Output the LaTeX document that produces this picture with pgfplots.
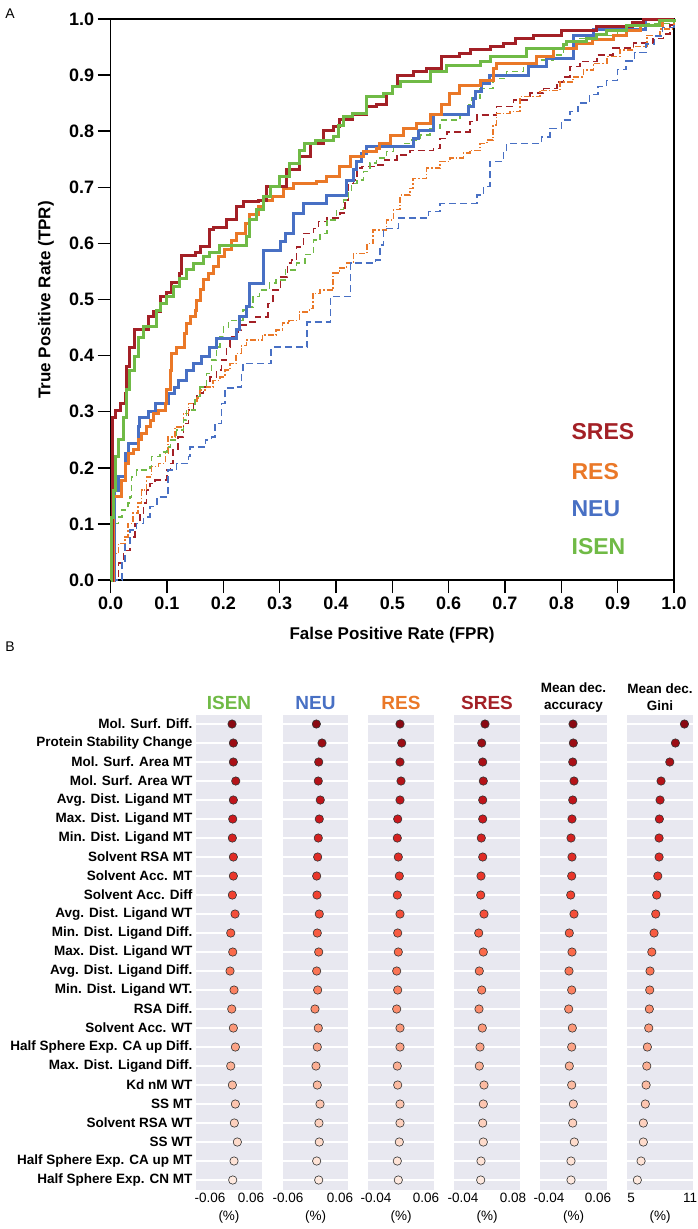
\documentclass[border=0pt]{standalone}
\usepackage{fontspec}
\setmainfont{Liberation Sans}
\usepackage{pgfplots}
\usepackage{pgfplotstable}
\pgfplotsset{compat=1.18}
\definecolor{sresC}{RGB}{163,32,38}
\definecolor{resC}{RGB}{234,120,40}
\definecolor{neuC}{RGB}{72,112,196}
\definecolor{isenC}{RGB}{112,186,70}
\definecolor{bgc}{RGB}{232,232,240}
\pgfplotsset{colormap={myreds}{rgb255=(103,0,13) rgb255=(165,15,21) rgb255=(203,24,29) rgb255=(239,59,44) rgb255=(251,106,74) rgb255=(252,146,114) rgb255=(252,187,161) rgb255=(254,224,210) rgb255=(255,245,240)}}

\pgfplotstableread{
r isen neu res sres acc gini
0 0.0044 0.0055 0.0080 0.0128 0.0090 10.43
1 0.0082 0.0185 0.0114 0.0049 0.0096 9.51
2 0.0082 0.0109 0.0080 0.0073 0.0084 8.94
3 0.0152 0.0099 0.0100 0.0087 0.0110 8.05
4 0.0082 0.0145 0.0080 0.0073 0.0084 7.95
5 0.0064 0.0122 0.0034 0.0073 0.0069 7.88
6 0.0053 0.0099 0.0026 0.0039 0.0049 7.85
7 0.0082 0.0085 0.0046 0.0073 0.0069 7.85
8 0.0082 0.0062 0.0066 0.0032 0.0063 7.72
9 0.0053 0.0069 0.0026 0.0025 0.0043 7.61
10 0.0132 0.0122 0.0080 0.0104 0.0110 7.51
11 0.0006 0.0076 0.0034 -0.0023 0.0014 7.34
12 0.0064 0.0109 0.0046 0.0087 0.0069 7.11
13 -0.0015 0.0062 0.0014 -0.0009 0.0008 6.93
14 0.0102 0.0085 0.0034 0.0049 0.0063 6.90
15 0.0035 0.0023 0.0014 -0.0016 0.0002 6.86
16 0.0082 0.0099 0.0080 0.0063 0.0076 6.80
17 0.0141 0.0076 0.0080 0.0008 0.0063 6.66
18 0.0006 0.0046 0.0026 -0.0009 0.0014 6.60
19 0.0053 0.0076 0.0034 0.0104 0.0063 6.53
20 0.0141 0.0139 0.0080 0.0087 0.0096 6.45
21 0.0111 0.0115 0.0080 0.0073 0.0084 6.25
22 0.0199 0.0122 0.0066 0.0087 0.0116 6.25
23 0.0102 0.0062 0.0026 0.0032 0.0049 6.02
24 0.0064 0.0109 0.0046 0.0025 0.0049 5.64
}\imp

\pgfplotsset{
  bpanel/.style={
    anchor=south west, scale only axis, height=475pt,
    ymin=-0.5, ymax=24.5, y dir=reverse,
    axis background/.style={fill=bgc},
    axis line style={draw=none},
    major tick length=0pt,
    scaled x ticks=false, scaled y ticks=false,
    ytick={0,1,...,24}, yticklabels={},
    ymajorgrids, major grid style={white, line width=1.4pt},
    xticklabel style={font=\fontsize{13.5}{13.5}\selectfont},
    xlabel={(\%)}, xlabel style={font=\fontsize{13.5}{13.5}\selectfont, yshift=-1pt},
    clip=false, colormap name=myreds, point meta min=-2, point meta max=26,
  },
  dots/.style={scatter, only marks, mark=*, mark size=4.2pt, line width=0.6pt,
    scatter src=explicit, scatter/use mapped color={draw=black!80, fill=mapped color}},
}

\begin{document}
\begin{tikzpicture}[x=1pt,y=1pt]
\useasboundingbox (0,0) rectangle (697,-1229);

% ---------------- Panel A ----------------
\node[font=\fontsize{14}{14}\selectfont, anchor=center] at (10,-14) {A};
\begin{axis}[
  at={(110.6pt,-580pt)}, anchor=south west, scale only axis,
  width=563.4pt, height=561pt,
  xmin=0, xmax=1, ymin=0, ymax=1,
  xtick={0,0.1,0.2,0.3,0.4,0.5,0.6,0.7,0.8,0.9,1},
  xticklabels={0.0,0.1,0.2,0.3,0.4,0.5,0.6,0.7,0.8,0.9,1.0},
  ytick={0,0.1,0.2,0.3,0.4,0.5,0.6,0.7,0.8,0.9,1},
  yticklabels={0.0,0.1,0.2,0.3,0.4,0.5,0.6,0.7,0.8,0.9,1.0},
  tick align=outside, tick pos=left, major tick length=13pt,
  axis line style={line width=1.5pt},
  every tick/.style={black, line width=1.5pt},
  tick label style={font=\bfseries\fontsize{18}{18}\selectfont},
  clip=false,
]
% dashed curves
\addplot[const plot, sresC, line width=1.5pt, dash pattern=on 7pt off 4pt] coordinates {
(0,0) (0.014,0.03) (0.023,0.053) (0.034,0.077) (0.043,0.101) (0.052,0.119) (0.058,0.137) (0.064,0.16) (0.07,0.172) (0.079,0.178) (0.1,0.196) (0.106,0.208) (0.111,0.232) (0.12,0.255) (0.129,0.279) (0.138,0.303) (0.147,0.321) (0.153,0.333) (0.165,0.344) (0.176,0.362) (0.188,0.374) (0.197,0.392) (0.206,0.415) (0.212,0.433) (0.226,0.446) (0.232,0.455) (0.244,0.46) (0.258,0.469) (0.279,0.493) (0.288,0.517) (0.302,0.54) (0.314,0.565) (0.321,0.57) (0.33,0.594) (0.342,0.618) (0.36,0.627) (0.369,0.639) (0.384,0.645) (0.407,0.654) (0.416,0.677) (0.422,0.707) (0.431,0.713) (0.437,0.734) (0.446,0.737) (0.472,0.74) (0.487,0.749) (0.508,0.758) (0.531,0.766) (0.573,0.769) (0.585,0.787) (0.597,0.799) (0.638,0.817) (0.65,0.829) (0.685,0.844) (0.715,0.856) (0.744,0.868) (0.768,0.876) (0.792,0.888) (0.804,0.897) (0.815,0.915) (0.833,0.924) (0.863,0.936) (0.892,0.948) (0.928,0.957) (0.963,0.965) (0.981,0.973) (0.993,0.989) (1,1)};
\addplot[const plot, resC, line width=1.5pt, dash pattern=on 6pt off 2pt on 1.5pt off 2pt] coordinates {
(0,0) (0.005,0.047) (0.014,0.065) (0.026,0.077) (0.031,0.101) (0.04,0.119) (0.049,0.137) (0.055,0.16) (0.064,0.184) (0.073,0.202) (0.085,0.208) (0.097,0.226) (0.102,0.255) (0.114,0.273) (0.129,0.297) (0.138,0.315) (0.153,0.324) (0.159,0.339) (0.17,0.344) (0.182,0.356) (0.194,0.362) (0.203,0.374) (0.212,0.386) (0.223,0.404) (0.232,0.418) (0.241,0.428) (0.27,0.437) (0.294,0.446) (0.305,0.458) (0.317,0.463) (0.335,0.478) (0.353,0.484) (0.359,0.511) (0.372,0.517) (0.395,0.547) (0.406,0.556) (0.419,0.565) (0.431,0.582) (0.455,0.6) (0.466,0.624) (0.49,0.642) (0.502,0.66) (0.514,0.686) (0.531,0.698) (0.537,0.716) (0.561,0.734) (0.585,0.746) (0.602,0.752) (0.626,0.761) (0.638,0.766) (0.656,0.778) (0.668,0.784) (0.679,0.811) (0.685,0.832) (0.709,0.835) (0.727,0.862) (0.762,0.873) (0.798,0.888) (0.821,0.897) (0.839,0.909) (0.857,0.921) (0.881,0.933) (0.904,0.945) (0.928,0.951) (0.952,0.971) (0.975,0.982) (1,1)};
\addplot[const plot, neuC, line width=1.5pt, dash pattern=on 7pt off 4pt] coordinates {
(0,0) (0.02,0.03) (0.026,0.065) (0.034,0.089) (0.046,0.101) (0.058,0.112) (0.07,0.131) (0.082,0.148) (0.102,0.196) (0.117,0.208) (0.138,0.22) (0.141,0.237) (0.168,0.25) (0.179,0.255) (0.185,0.279) (0.197,0.315) (0.203,0.342) (0.223,0.344) (0.232,0.368) (0.235,0.386) (0.285,0.415) (0.349,0.46) (0.39,0.505) (0.426,0.565) (0.47,0.57) (0.478,0.597) (0.484,0.627) (0.511,0.645) (0.564,0.657) (0.585,0.671) (0.65,0.686) (0.662,0.701) (0.673,0.746) (0.697,0.764) (0.703,0.778) (0.765,0.79) (0.78,0.805) (0.8,0.82) (0.815,0.835) (0.83,0.85) (0.85,0.865) (0.865,0.88) (0.88,0.89) (0.9,0.91) (0.915,0.925) (0.93,0.94) (0.95,0.955) (0.965,0.97) (0.98,0.985) (1,1)};
\addplot[const plot, isenC, line width=1.5pt, dash pattern=on 6pt off 4pt] coordinates {
(0,0) (0.002,0.053) (0.005,0.101) (0.014,0.112) (0.02,0.125) (0.031,0.137) (0.034,0.148) (0.037,0.184) (0.046,0.196) (0.07,0.202) (0.073,0.22) (0.088,0.228) (0.1,0.237) (0.106,0.25) (0.117,0.267) (0.129,0.285) (0.135,0.303) (0.15,0.327) (0.159,0.344) (0.17,0.368) (0.179,0.392) (0.188,0.415) (0.194,0.433) (0.2,0.451) (0.209,0.463) (0.235,0.481) (0.241,0.487) (0.253,0.505) (0.264,0.517) (0.282,0.529) (0.294,0.535) (0.31,0.553) (0.33,0.565) (0.345,0.58) (0.36,0.606) (0.372,0.618) (0.384,0.642) (0.401,0.66) (0.413,0.677) (0.422,0.695) (0.428,0.707) (0.437,0.713) (0.449,0.728) (0.46,0.743) (0.472,0.752) (0.49,0.764) (0.502,0.772) (0.52,0.778) (0.534,0.784) (0.549,0.793) (0.567,0.805) (0.585,0.82) (0.62,0.829) (0.635,0.847) (0.641,0.859) (0.656,0.876) (0.679,0.894) (0.703,0.906) (0.733,0.915) (0.756,0.927) (0.786,0.936) (0.804,0.948) (0.827,0.965) (0.857,0.971) (0.9,0.98) (0.952,0.992) (1,1)};
% solid curves
\addplot[const plot, neuC, line width=3pt] coordinates {
(0,0) (0.007,0.16) (0.014,0.184) (0.026,0.226) (0.031,0.244) (0.049,0.273) (0.051,0.289) (0.067,0.3) (0.079,0.315) (0.102,0.333) (0.114,0.344) (0.12,0.356) (0.135,0.374) (0.147,0.386) (0.161,0.398) (0.176,0.414) (0.188,0.431) (0.223,0.446) (0.229,0.469) (0.241,0.487) (0.247,0.529) (0.271,0.588) (0.301,0.603) (0.31,0.618) (0.324,0.654) (0.342,0.671) (0.384,0.686) (0.419,0.713) (0.431,0.731) (0.437,0.746) (0.446,0.761) (0.455,0.772) (0.537,0.787) (0.546,0.802) (0.573,0.829) (0.635,0.844) (0.644,0.859) (0.647,0.87) (0.659,0.885) (0.673,0.9) (0.741,0.915) (0.774,0.93) (0.821,0.971) (0.857,0.982) (0.949,1.0) (1,1)};
\addplot[const plot, resC, line width=3pt] coordinates {
(0,0) (0.005,0.148) (0.02,0.178) (0.026,0.208) (0.031,0.226) (0.04,0.232) (0.049,0.25) (0.055,0.262) (0.064,0.273) (0.07,0.285) (0.076,0.297) (0.085,0.303) (0.097,0.315) (0.1,0.339) (0.106,0.374) (0.108,0.404) (0.117,0.415) (0.132,0.44) (0.135,0.458) (0.141,0.469) (0.15,0.481) (0.153,0.499) (0.159,0.517) (0.165,0.535) (0.173,0.547) (0.182,0.558) (0.191,0.576) (0.203,0.59) (0.215,0.606) (0.224,0.618) (0.239,0.636) (0.247,0.651) (0.262,0.665) (0.271,0.677) (0.288,0.683) (0.306,0.698) (0.324,0.707) (0.366,0.71) (0.384,0.719) (0.407,0.737) (0.425,0.755) (0.449,0.764) (0.472,0.769) (0.478,0.778) (0.496,0.793) (0.52,0.805) (0.543,0.814) (0.567,0.829) (0.588,0.847) (0.602,0.868) (0.62,0.882) (0.656,0.891) (0.679,0.912) (0.685,0.921) (0.756,0.933) (0.786,0.948) (0.827,0.957) (0.856,0.963) (0.892,0.971) (0.916,0.98) (0.94,0.989) (0.98,0.998) (1,1)};
\addplot[const plot, sresC, line width=3pt] coordinates {
(0,0) (0.004,0.29) (0.008,0.303) (0.017,0.315) (0.026,0.333) (0.029,0.38) (0.034,0.415) (0.043,0.446) (0.067,0.469) (0.076,0.478) (0.088,0.505) (0.1,0.512) (0.108,0.53) (0.123,0.547) (0.126,0.579) (0.15,0.583) (0.159,0.594) (0.176,0.624) (0.182,0.629) (0.206,0.642) (0.224,0.665) (0.235,0.674) (0.262,0.677) (0.277,0.701) (0.313,0.731) (0.336,0.755) (0.354,0.778) (0.377,0.802) (0.395,0.808) (0.407,0.82) (0.43,0.829) (0.455,0.844) (0.472,0.847) (0.49,0.868) (0.501,0.879) (0.51,0.9) (0.537,0.906) (0.56,0.912) (0.588,0.933) (0.62,0.939) (0.638,0.945) (0.674,0.951) (0.697,0.957) (0.718,0.966) (0.75,0.97) (0.8,0.979) (0.863,0.986) (0.927,0.993) (0.945,1.0) (1,1)};
\addplot[const plot, isenC, line width=3pt] coordinates {
(0,0) (0.002,0.112) (0.005,0.16) (0.008,0.22) (0.014,0.25) (0.023,0.29) (0.029,0.339) (0.034,0.374) (0.043,0.398) (0.049,0.433) (0.058,0.451) (0.082,0.481) (0.088,0.493) (0.1,0.505) (0.111,0.523) (0.123,0.538) (0.135,0.553) (0.147,0.565) (0.165,0.576) (0.176,0.583) (0.194,0.597) (0.242,0.612) (0.247,0.642) (0.259,0.66) (0.271,0.683) (0.283,0.701) (0.3,0.719) (0.318,0.743) (0.336,0.766) (0.345,0.778) (0.363,0.784) (0.395,0.79) (0.405,0.81) (0.413,0.826) (0.43,0.832) (0.455,0.862) (0.484,0.868) (0.501,0.879) (0.514,0.888) (0.567,0.906) (0.597,0.918) (0.656,0.924) (0.674,0.933) (0.739,0.948) (0.803,0.954) (0.81,0.96) (0.845,0.965) (0.863,0.973) (0.88,0.98) (0.916,0.989) (0.975,0.998) (1,1)};
\node[anchor=west, text=sresC, font=\bfseries\fontsize{23}{23}\selectfont] at (axis cs:0.812,0.264) {SRES};
\node[anchor=west, text=resC, font=\bfseries\fontsize{23}{23}\selectfont] at (axis cs:0.812,0.194) {RES};
\node[anchor=west, text=neuC, font=\bfseries\fontsize{23}{23}\selectfont] at (axis cs:0.812,0.128) {NEU};
\node[anchor=west, text=isenC, font=\bfseries\fontsize{23}{23}\selectfont] at (axis cs:0.812,0.059) {ISEN};
\end{axis}
\node[font=\bfseries\fontsize{17}{17}\selectfont] at (392,-635) {False Positive Rate (FPR)};
\node[font=\bfseries\fontsize{17}{17}\selectfont, rotate=90] at (46,-300) {True Positive Rate (TPR)};

% ---------------- Panel B ----------------
\node[font=\fontsize{14}{14}\selectfont, anchor=center] at (10,-647) {B};
\node[font=\bfseries\fontsize{19}{19}\selectfont, text=isenC] at (229,-703) {ISEN};
\node[font=\bfseries\fontsize{19}{19}\selectfont, text=neuC] at (315.5,-703) {NEU};
\node[font=\bfseries\fontsize{19}{19}\selectfont, text=resC] at (401,-703) {RES};
\node[font=\bfseries\fontsize{19}{19}\selectfont, text=sresC] at (487,-703) {SRES};
\node[font=\bfseries\fontsize{13.5}{17}\selectfont, align=center] at (573.5,-697) {Mean dec.\\accuracy};
\node[font=\bfseries\fontsize{13.5}{17}\selectfont, align=center] at (660,-697) {Mean dec.\\Gini};

\begin{axis}[bpanel, at={(196pt,-1189.5pt)}, width=66pt,
  xmin=-0.101, xmax=0.092, xtick={-0.06,0.06}, xticklabels={-0.06,0.06},
  yticklabels={Mol. Surf. Diff., Protein Stability Change, Mol. Surf. Area MT, Mol. Surf. Area WT, Avg. Dist. Ligand MT, Max. Dist. Ligand MT, Min. Dist. Ligand MT, Solvent RSA MT, Solvent Acc. MT, Solvent Acc. Diff, Avg. Dist. Ligand WT, Min. Dist. Ligand Diff., Max. Dist. Ligand WT, Avg. Dist. Ligand Diff., Min. Dist. Ligand WT., RSA Diff., Solvent Acc. WT, Half Sphere Exp. CA up Diff., Max. Dist. Ligand Diff., Kd nM WT, SS MT, Solvent RSA WT, SS WT, Half Sphere Exp. CA up MT, Half Sphere Exp. CN MT},
  yticklabel style={font=\bfseries\fontsize{13.5}{13.5}\selectfont},
]
\addplot[dots] table[x=isen, y=r, meta=r]{\imp};
\end{axis}
\begin{axis}[bpanel, at={(283pt,-1189.5pt)}, width=65pt,
  xmin=-0.0715, xmax=0.0785, xtick={-0.06,0.06}, xticklabels={-0.06,0.06}]
\addplot[dots] table[x=neu, y=r, meta=r]{\imp};
\end{axis}
\begin{axis}[bpanel, at={(368pt,-1189.5pt)}, width=66pt,
  xmin=-0.056, xmax=0.076, xtick={-0.04,0.06}, xticklabels={-0.04,0.06}]
\addplot[dots] table[x=res, y=r, meta=r]{\imp};
\end{axis}
\begin{axis}[bpanel, at={(454pt,-1189.5pt)}, width=66pt,
  xmin=-0.0616, xmax=0.0968, xtick={-0.04,0.08}, xticklabels={-0.04,0.08}]
\addplot[dots] table[x=sres, y=r, meta=r]{\imp};
\end{axis}
\begin{axis}[bpanel, at={(540pt,-1189.5pt)}, width=67pt,
  xmin=-0.0584, xmax=0.0784, xtick={-0.04,0.06}, xticklabels={-0.04,0.06}]
\addplot[dots] table[x=acc, y=r, meta=r]{\imp};
\end{axis}
\begin{axis}[bpanel, at={(627pt,-1189.5pt)}, width=66pt,
  xmin=4.59, xmax=11.3, xtick={5,11}, xticklabels={5,11}]
\addplot[dots] table[x=gini, y=r, meta=r]{\imp};
\end{axis}
\end{tikzpicture}
\end{document}
